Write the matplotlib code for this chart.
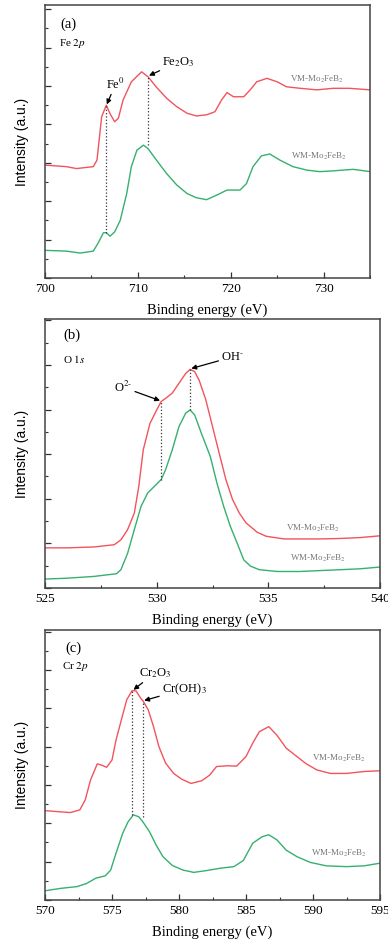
import numpy as np
import matplotlib
matplotlib.use('Agg')
import matplotlib.pyplot as plt
from matplotlib.ticker import MultipleLocator, NullFormatter

plt.rcParams['font.family'] = ['Liberation Serif', 'DejaVu Serif']
plt.rcParams['mathtext.fontset'] = 'stix'

RED = '#f2545b'
GREEN = '#35b06f'

# ---- (a) Fe 2p ----
fe_x_vm = [700, 702.3, 703.4, 705.2, 705.6, 706.1, 706.6, 707.0, 707.5, 707.9, 708.4, 709.3,
           710.4, 711.1, 712.0, 713.1, 714.2, 715.3, 716.3, 717.4, 718.3, 719.0, 719.6, 720.3,
           721.4, 722.1, 722.8, 723.9, 725.0, 726.0, 727.5, 729.3, 731.0, 732.8, 735]
fe_y_vm = [2.94, 2.90, 2.85, 2.90, 3.07, 4.20, 4.50, 4.28, 4.07, 4.16, 4.63, 5.11,
           5.37, 5.24, 4.97, 4.68, 4.46, 4.29, 4.22, 4.25, 4.33, 4.63, 4.83, 4.72,
           4.72, 4.90, 5.11, 5.20, 5.11, 4.98, 4.94, 4.90, 4.94, 4.94, 4.90]
fe_x_wm = [700, 702.3, 703.8, 705.2, 705.7, 706.3, 706.6, 707.0, 707.5, 708.1, 708.8, 709.3,
           709.9, 710.6, 711.1, 712.0, 713.1, 714.2, 715.3, 716.3, 717.4, 718.5, 719.6, 721.0,
           721.7, 722.4, 723.3, 724.2, 725.3, 726.7, 728.2, 729.6, 731.0, 733.2, 735]
fe_y_wm = [0.72, 0.70, 0.65, 0.70, 0.90, 1.18, 1.18, 1.09, 1.20, 1.50, 2.20, 2.90,
           3.33, 3.46, 3.37, 3.07, 2.72, 2.42, 2.20, 2.09, 2.04, 2.16, 2.29, 2.29,
           2.46, 2.90, 3.18, 3.23, 3.07, 2.90, 2.81, 2.77, 2.79, 2.83, 2.77]
fe_peaks = [706.6, 711.1]
fe_peak_top = [4.50, 5.24]
fe_peak_bot = [1.18, 3.46]

# ---- (b) O 1s ----
o_x_vm = [525, 526.0, 527.2, 528.1, 528.4, 528.7, 529.0, 529.2, 529.4, 529.7, 530.0, 530.2,
          530.4, 530.7, 531.0, 531.3, 531.5, 531.7, 531.9, 532.2, 532.5, 532.8, 533.1, 533.4,
          533.7, 534.0, 534.5, 534.9, 535.7, 536.4, 537.3, 538.2, 539.1, 540]
o_y_vm = [0.90, 0.90, 0.92, 0.97, 1.08, 1.31, 1.68, 2.28, 3.10, 3.69, 3.99, 4.18,
          4.25, 4.37, 4.59, 4.81, 4.90, 4.85, 4.66, 4.22, 3.62, 3.02, 2.43, 1.98,
          1.68, 1.46, 1.25, 1.16, 1.10, 1.10, 1.10, 1.11, 1.13, 1.17]
o_x_wm = [525, 526.0, 527.2, 528.2, 528.4, 528.7, 529.0, 529.3, 529.6, 529.9, 530.2, 530.4,
          530.7, 531.0, 531.3, 531.5, 531.7, 532.0, 532.4, 532.7, 533.0, 533.3, 533.6, 533.9,
          534.2, 534.6, 535.4, 536.4, 537.3, 538.2, 539.1, 540]
o_y_wm = [0.20, 0.22, 0.26, 0.32, 0.41, 0.78, 1.31, 1.83, 2.13, 2.28, 2.43, 2.65,
          3.10, 3.62, 3.92, 3.99, 3.88, 3.47, 2.95, 2.35, 1.83, 1.38, 1.01, 0.63,
          0.49, 0.41, 0.37, 0.37, 0.39, 0.41, 0.43, 0.47]
o_peaks = [530.2, 531.5]
o_peak_top = [4.18, 4.90]
o_peak_bot = [2.43, 3.99]

# ---- (c) Cr 2p ----
cr_x_vm = [570, 571.1, 571.9, 572.6, 573.0, 573.4, 573.9, 574.2, 574.6, 575.0, 575.3, 575.7,
           576.1, 576.5, 576.8, 577.2, 577.3, 577.7, 578.1, 578.5, 579.0, 579.6, 580.2, 580.9,
           581.7, 582.3, 582.8, 583.6, 584.3, 585.0, 585.5, 586.0, 586.7, 587.3, 588.0, 588.8,
           589.5, 590.3, 591.3, 592.5, 593.8, 595]
cr_y_vm = [2.33, 2.30, 2.28, 2.35, 2.61, 3.13, 3.55, 3.52, 3.46, 3.65, 4.17, 4.70,
           5.22, 5.46, 5.45, 5.23, 5.20, 4.96, 4.52, 4.00, 3.57, 3.30, 3.15, 3.04,
           3.11, 3.26, 3.48, 3.50, 3.49, 3.74, 4.09, 4.39, 4.52, 4.30, 3.96, 3.74,
           3.55, 3.39, 3.30, 3.30, 3.35, 3.37]
cr_x_wm = [570, 571.1, 572.4, 573.1, 573.8, 574.5, 574.9, 575.3, 575.8, 576.2, 576.6, 577.0,
           577.3, 577.8, 578.3, 578.8, 579.5, 580.3, 581.1, 582.1, 583.1, 584.1, 584.8, 585.5,
           586.2, 586.7, 587.3, 588.0, 588.8, 589.8, 591.0, 592.5, 593.8, 595]
cr_y_wm = [0.24, 0.30, 0.35, 0.43, 0.57, 0.63, 0.78, 1.22, 1.74, 2.04, 2.22, 2.17,
           2.04, 1.78, 1.43, 1.13, 0.90, 0.78, 0.72, 0.77, 0.83, 0.87, 1.03, 1.48,
           1.65, 1.70, 1.57, 1.30, 1.13, 0.98, 0.89, 0.87, 0.89, 0.96]
cr_peaks = [576.5, 577.3]
cr_peak_top = [5.46, 5.20]
cr_peak_bot = [2.22, 2.17]

W, H = 388, 940
fig = plt.figure(figsize=(W / 100, H / 100), dpi=100)


def make_ax(l, r, t, b):
    return fig.add_axes([l / W, 1 - b / H, (r - l) / W, (b - t) / H])


def style(ax, xlim, ylim, xmaj, ymaj):
    ax.set_xlim(*xlim)
    ax.set_ylim(*ylim)
    ax.xaxis.set_major_locator(MultipleLocator(xmaj))
    ax.xaxis.set_minor_locator(MultipleLocator(xmaj / 2))
    ax.yaxis.set_major_locator(MultipleLocator(ymaj))
    ax.yaxis.set_minor_locator(MultipleLocator(ymaj / 2))
    ax.yaxis.set_major_formatter(NullFormatter())
    ax.tick_params(which='both', direction='in', top=False, right=False, labelsize=9.5,
                   color='#333333')
    ax.tick_params(which='major', length=4, width=0.9)
    ax.tick_params(which='minor', length=2, width=0.8)
    for s in ax.spines.values():
        s.set_color('#444444')
        s.set_linewidth(1.1)
    ax.set_xlabel('Binding energy (eV)', fontsize=10.5, labelpad=6)
    ax.set_ylabel('Intensity (a.u.)', fontsize=10, family=['Liberation Sans', 'DejaVu Sans'],
                  labelpad=8)


def curves(ax, xv, yv, xw, yw, peaks, top, bot):
    ax.plot(xv, yv, color=RED, lw=1.0)
    ax.plot(xw, yw, color=GREEN, lw=1.0)
    for p, t, b in zip(peaks, top, bot):
        ax.plot([p, p], [b, t], color='#333333', ls=':', lw=0.9)


arrow = dict(arrowstyle='-|>', color='black', lw=0.9, mutation_scale=7, shrinkA=0, shrinkB=0)
lab = dict(fontsize=6.5, color='#777777', ha='center', va='center')
panel = dict(fontsize=10.5, ha='center', va='center')
elem = dict(fontsize=8, ha='center', va='center')

# (a)
ax = make_ax(45, 370, 5, 278)
curves(ax, fe_x_vm, fe_y_vm, fe_x_wm, fe_y_wm, fe_peaks, fe_peak_top, fe_peak_bot)
style(ax, (700, 735), (0, 7.11), 10, 1)
ax.text(702.5, 6.6, '(a)', **panel)
ax.text(703.0, 6.1, 'Fe $\\mathit{2p}$', **elem)
ax.annotate('Fe$^0$', xy=(706.65, 4.52), xytext=(707.6, 5.05), fontsize=9,
            ha='center', va='center', arrowprops=arrow)
ax.annotate('Fe$_2$O$_3$', xy=(711.2, 5.27), xytext=(714.4, 5.63), fontsize=9,
            ha='center', va='center', arrowprops=arrow)
ax.text(729.3, 5.18, 'VM-Mo$_2$FeB$_2$', **lab)
ax.text(729.5, 3.16, 'WM-Mo$_2$FeB$_2$', **lab)

# (b)
ax = make_ax(45, 380, 319, 588)
curves(ax, o_x_vm, o_y_vm, o_x_wm, o_y_wm, o_peaks, o_peak_top, o_peak_bot)
style(ax, (525, 540), (0, 6.03), 5, 1)
ax.text(526.2, 5.67, '(b)', **panel)
ax.text(526.3, 5.13, 'O $\\mathit{1s}$', **elem)
ax.annotate('O$^{2\\text{-}}$', xy=(530.15, 4.2), xytext=(528.5, 4.5), fontsize=9,
            ha='center', va='center', arrowprops=arrow)
ax.annotate('OH$^{\\text{-}}$', xy=(531.55, 4.92), xytext=(533.4, 5.18), fontsize=9,
            ha='center', va='center', arrowprops=arrow)
ax.text(537.0, 1.34, 'VM-Mo$_2$FeB$_2$', **lab)
ax.text(537.2, 0.67, 'WM-Mo$_2$FeB$_2$', **lab)

# (c)
ax = make_ax(45, 380, 630, 900)
curves(ax, cr_x_vm, cr_y_vm, cr_x_wm, cr_y_wm, cr_peaks, cr_peak_top, cr_peak_bot)
style(ax, (570, 595), (0, 7.04), 5, 1)
ax.text(572.1, 6.57, '(c)', **panel)
ax.text(572.3, 6.09, 'Cr $\\mathit{2p}$', **elem)
ax.annotate('Cr$_2$O$_3$', xy=(576.6, 5.48), xytext=(578.2, 5.92), fontsize=9,
            ha='center', va='center', arrowprops=arrow)
ax.annotate('Cr(OH)$_3$', xy=(577.4, 5.2), xytext=(580.4, 5.5), fontsize=9,
            ha='center', va='center', arrowprops=arrow)
ax.text(591.9, 3.70, 'VM-Mo$_2$FeB$_2$', **lab)
ax.text(591.9, 1.22, 'WM-Mo$_2$FeB$_2$', **lab)

fig.savefig('out.png', dpi=100)
